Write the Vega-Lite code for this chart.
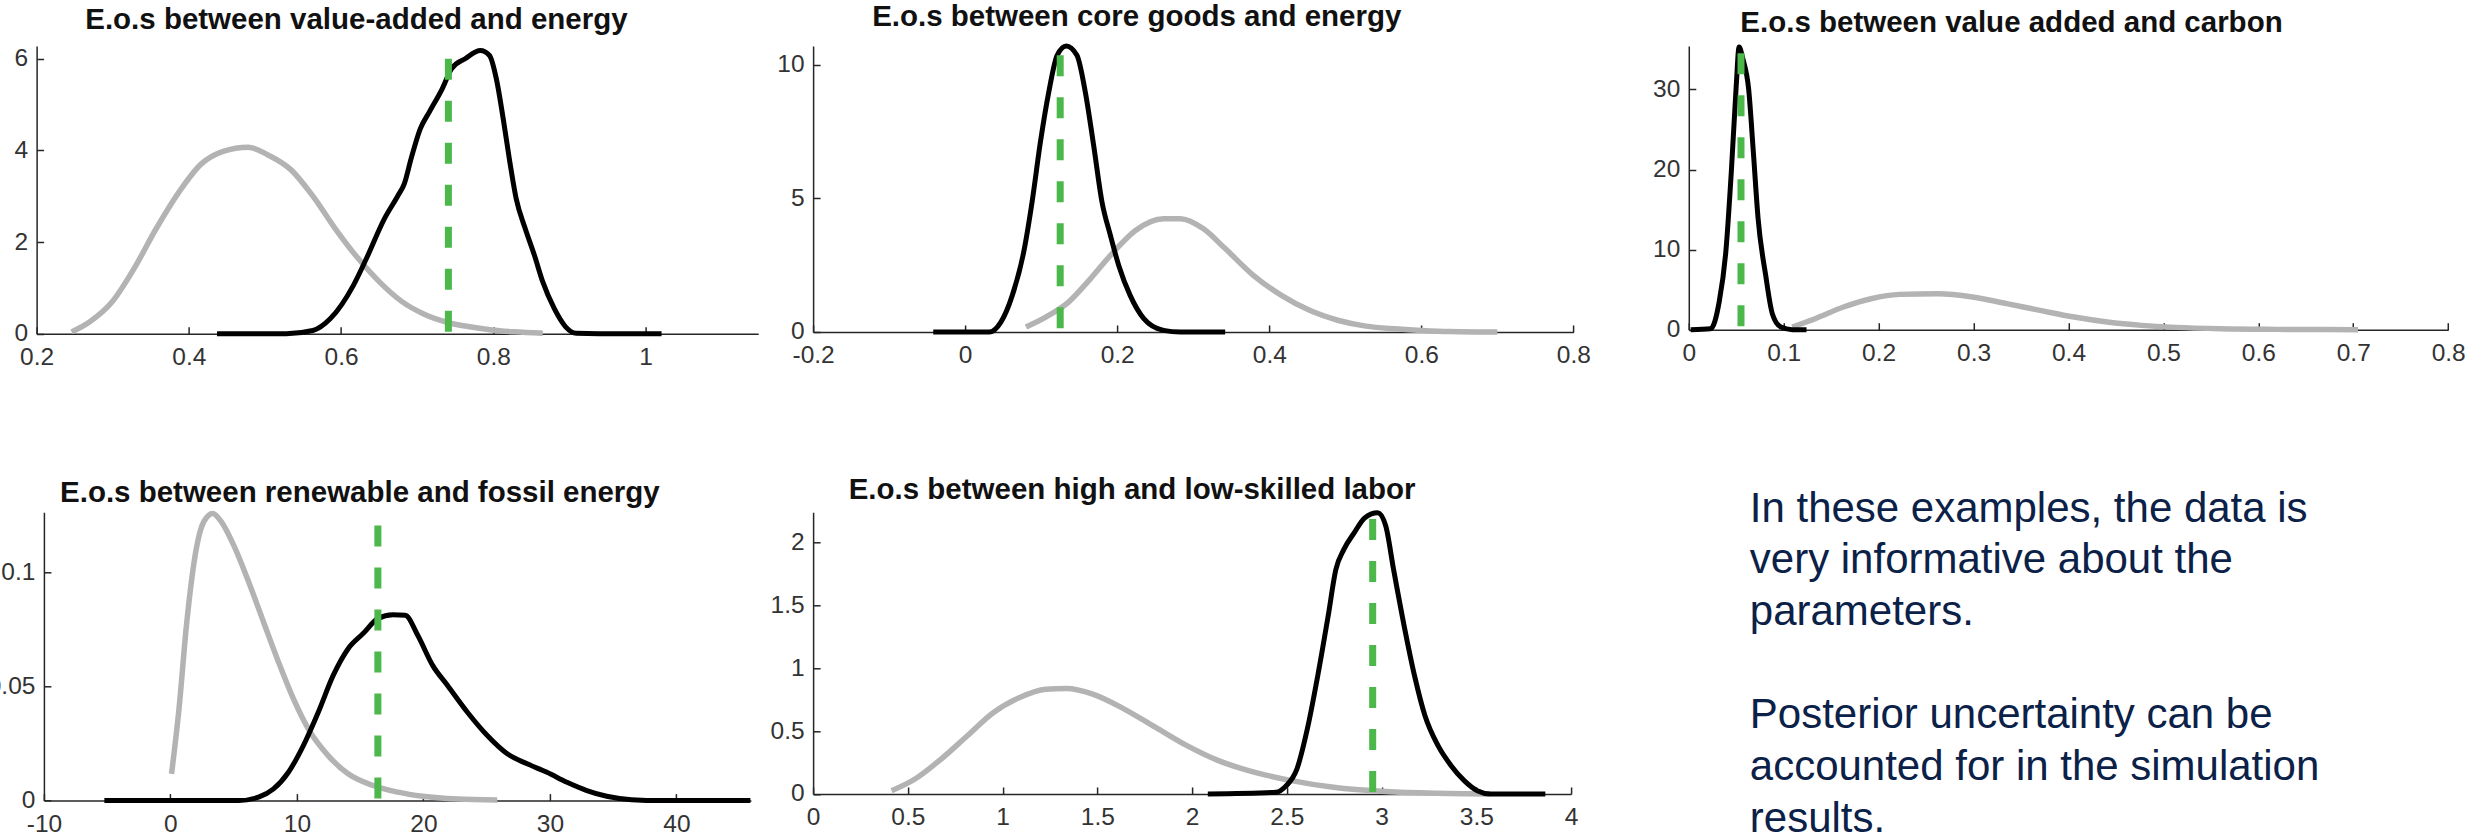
{
  "$schema": "https://vega.github.io/schema/vega-lite/v6.json",
  "background": "white",
  "padding": {"left": -13.6, "top": -133.3, "right": 5, "bottom": -6},
  "bounds": "flush",
  "align": "each",
  "center": {"row": false, "column": true},
  "columns": 3,
  "spacing": {"row": 178.3, "column": 54.7},
  "config": {
    "view": {"stroke": null},
    "axis": {"grid": false, "domainColor": "#262626", "domainWidth": 1.5, "tickColor": "#262626", "tickWidth": 1.5, "tickSize": -7, "labelFont": "Liberation Sans", "labelFontSize": 24.5, "labelColor": "#333333", "labelFlush": false, "labelOverlap": false},
    "axisX": {"labelPadding": 19},
    "axisY": {"labelPadding": 16},
    "title": {"font": "Liberation Sans", "fontSize": 29.5, "fontWeight": "bold", "color": "#111111", "baseline": "alphabetic", "anchor": "middle", "frame": "group"},
    "line": {"interpolate": "monotone", "strokeCap": "butt"}
  },
  "datasets": {
    "p1": [
      {"x":0.246,"y":0.04,"c":"prior"},{"x":0.269,"y":0.25,"c":"prior"},{"x":0.299,"y":0.69,"c":"prior"},{"x":0.328,"y":1.42,"c":"prior"},{"x":0.357,"y":2.29,"c":"prior"},{"x":0.387,"y":3.09,"c":"prior"},{"x":0.416,"y":3.7,"c":"prior"},{"x":0.445,"y":3.98,"c":"prior"},{"x":0.478,"y":4.07,"c":"prior"},{"x":0.504,"y":3.9,"c":"prior"},{"x":0.534,"y":3.58,"c":"prior"},{"x":0.563,"y":3.0,"c":"prior"},{"x":0.592,"y":2.3,"c":"prior"},{"x":0.622,"y":1.65,"c":"prior"},{"x":0.651,"y":1.12,"c":"prior"},{"x":0.68,"y":0.7,"c":"prior"},{"x":0.71,"y":0.42,"c":"prior"},{"x":0.739,"y":0.25,"c":"prior"},{"x":0.769,"y":0.15,"c":"prior"},{"x":0.798,"y":0.08,"c":"prior"},{"x":0.827,"y":0.04,"c":"prior"},{"x":0.865,"y":0.01,"c":"prior"},
      {"x":0.437,"y":0,"c":"post"},{"x":0.528,"y":0,"c":"post"},{"x":0.563,"y":0.07,"c":"post"},{"x":0.586,"y":0.33,"c":"post"},{"x":0.616,"y":1.05,"c":"post"},{"x":0.633,"y":1.63,"c":"post"},{"x":0.657,"y":2.51,"c":"post"},{"x":0.675,"y":3.02,"c":"post"},{"x":0.683,"y":3.27,"c":"post"},{"x":0.692,"y":3.82,"c":"post"},{"x":0.704,"y":4.47,"c":"post"},{"x":0.716,"y":4.84,"c":"post"},{"x":0.733,"y":5.35,"c":"post"},{"x":0.745,"y":5.78,"c":"post"},{"x":0.763,"y":6.0,"c":"post"},{"x":0.783,"y":6.18,"c":"post"},{"x":0.795,"y":6.07,"c":"post"},{"x":0.804,"y":5.56,"c":"post"},{"x":0.813,"y":4.69,"c":"post"},{"x":0.821,"y":3.82,"c":"post"},{"x":0.83,"y":2.95,"c":"post"},{"x":0.842,"y":2.29,"c":"post"},{"x":0.854,"y":1.71,"c":"post"},{"x":0.865,"y":1.13,"c":"post"},{"x":0.88,"y":0.55,"c":"post"},{"x":0.895,"y":0.15,"c":"post"},{"x":0.909,"y":0.01,"c":"post"},{"x":0.939,"y":0,"c":"post"},{"x":1.021,"y":0,"c":"post"}
    ],
    "p2": [
      {"x":0.08,"y":0.19,"c":"prior"},{"x":0.106,"y":0.56,"c":"prior"},{"x":0.136,"y":1.12,"c":"prior"},{"x":0.165,"y":2.0,"c":"prior"},{"x":0.195,"y":2.99,"c":"prior"},{"x":0.224,"y":3.8,"c":"prior"},{"x":0.261,"y":4.24,"c":"prior"},{"x":0.283,"y":4.24,"c":"prior"},{"x":0.313,"y":3.87,"c":"prior"},{"x":0.342,"y":3.12,"c":"prior"},{"x":0.379,"y":2.12,"c":"prior"},{"x":0.416,"y":1.37,"c":"prior"},{"x":0.453,"y":0.81,"c":"prior"},{"x":0.49,"y":0.44,"c":"prior"},{"x":0.527,"y":0.22,"c":"prior"},{"x":0.564,"y":0.12,"c":"prior"},{"x":0.601,"y":0.06,"c":"prior"},{"x":0.638,"y":0.02,"c":"prior"},{"x":0.7,"y":0,"c":"prior"},
      {"x":-0.042,"y":0,"c":"post"},{"x":0.032,"y":0,"c":"post"},{"x":0.047,"y":0.37,"c":"post"},{"x":0.062,"y":1.37,"c":"post"},{"x":0.077,"y":2.99,"c":"post"},{"x":0.088,"y":4.86,"c":"post"},{"x":0.099,"y":7.11,"c":"post"},{"x":0.11,"y":8.98,"c":"post"},{"x":0.121,"y":10.35,"c":"post"},{"x":0.133,"y":10.7,"c":"post"},{"x":0.147,"y":10.35,"c":"post"},{"x":0.158,"y":8.98,"c":"post"},{"x":0.169,"y":6.98,"c":"post"},{"x":0.18,"y":4.86,"c":"post"},{"x":0.191,"y":3.62,"c":"post"},{"x":0.202,"y":2.49,"c":"post"},{"x":0.217,"y":1.37,"c":"post"},{"x":0.235,"y":0.5,"c":"post"},{"x":0.261,"y":0.06,"c":"post"},{"x":0.283,"y":0,"c":"post"},{"x":0.342,"y":0,"c":"post"}
    ],
    "p3": [
      {"x":0.109,"y":0.33,"c":"prior"},{"x":0.133,"y":1.37,"c":"prior"},{"x":0.163,"y":2.83,"c":"prior"},{"x":0.192,"y":3.87,"c":"prior"},{"x":0.222,"y":4.41,"c":"prior"},{"x":0.263,"y":4.49,"c":"prior"},{"x":0.299,"y":4.08,"c":"prior"},{"x":0.335,"y":3.25,"c":"prior"},{"x":0.37,"y":2.41,"c":"prior"},{"x":0.406,"y":1.58,"c":"prior"},{"x":0.441,"y":0.96,"c":"prior"},{"x":0.477,"y":0.54,"c":"prior"},{"x":0.513,"y":0.29,"c":"prior"},{"x":0.56,"y":0.12,"c":"prior"},{"x":0.619,"y":0.04,"c":"prior"},{"x":0.705,"y":0,"c":"prior"},
      {"x":0.002,"y":0,"c":"post"},{"x":0.023,"y":0.12,"c":"post"},{"x":0.032,"y":3.45,"c":"post"},{"x":0.039,"y":9.7,"c":"post"},{"x":0.045,"y":20.1,"c":"post"},{"x":0.05,"y":30.5,"c":"post"},{"x":0.053,"y":35.3,"c":"post"},{"x":0.057,"y":33.8,"c":"post"},{"x":0.063,"y":30.1,"c":"post"},{"x":0.068,"y":22.2,"c":"post"},{"x":0.073,"y":13.9,"c":"post"},{"x":0.081,"y":6.8,"c":"post"},{"x":0.088,"y":2.0,"c":"post"},{"x":0.097,"y":0.33,"c":"post"},{"x":0.109,"y":0,"c":"post"},{"x":0.124,"y":0,"c":"post"}
    ],
    "p4": [
      {"x":0.09,"y":0.0117,"c":"prior"},{"x":0.68,"y":0.0402,"c":"prior"},{"x":1.27,"y":0.0768,"c":"prior"},{"x":2.05,"y":0.1104,"c":"prior"},{"x":2.64,"y":0.1221,"c":"prior"},{"x":3.35,"y":0.1257,"c":"prior"},{"x":4.02,"y":0.1221,"c":"prior"},{"x":5.0,"y":0.1118,"c":"prior"},{"x":6.18,"y":0.0958,"c":"prior"},{"x":7.36,"y":0.0782,"c":"prior"},{"x":8.54,"y":0.0607,"c":"prior"},{"x":9.72,"y":0.0446,"c":"prior"},{"x":10.9,"y":0.0314,"c":"prior"},{"x":12.47,"y":0.0197,"c":"prior"},{"x":14.05,"y":0.0117,"c":"prior"},{"x":16.01,"y":0.0066,"c":"prior"},{"x":17.98,"y":0.0037,"c":"prior"},{"x":19.94,"y":0.0019,"c":"prior"},{"x":22.69,"y":0.0007,"c":"prior"},{"x":25.84,"y":0.0003,"c":"prior"},
      {"x":-5.22,"y":0,"c":"post"},{"x":5.4,"y":0,"c":"post"},{"x":6.97,"y":0.0015,"c":"post"},{"x":8.15,"y":0.0051,"c":"post"},{"x":9.33,"y":0.0124,"c":"post"},{"x":10.51,"y":0.0241,"c":"post"},{"x":11.69,"y":0.0387,"c":"post"},{"x":12.87,"y":0.0548,"c":"post"},{"x":14.05,"y":0.0665,"c":"post"},{"x":15.23,"y":0.0731,"c":"post"},{"x":16.41,"y":0.0797,"c":"post"},{"x":17.58,"y":0.0814,"c":"post"},{"x":18.57,"y":0.0811,"c":"post"},{"x":19.55,"y":0.0724,"c":"post"},{"x":20.73,"y":0.0592,"c":"post"},{"x":21.91,"y":0.0504,"c":"post"},{"x":23.48,"y":0.0387,"c":"post"},{"x":25.05,"y":0.0285,"c":"post"},{"x":26.63,"y":0.0205,"c":"post"},{"x":28.2,"y":0.0161,"c":"post"},{"x":29.77,"y":0.0124,"c":"post"},{"x":31.35,"y":0.008,"c":"post"},{"x":32.92,"y":0.0044,"c":"post"},{"x":34.49,"y":0.0019,"c":"post"},{"x":36.46,"y":0.0004,"c":"post"},{"x":38.82,"y":0,"c":"post"},{"x":45.85,"y":0,"c":"post"}
    ],
    "p5": [
      {"x":0.414,"y":0.026,"c":"prior"},{"x":0.538,"y":0.119,"c":"prior"},{"x":0.676,"y":0.278,"c":"prior"},{"x":0.814,"y":0.463,"c":"prior"},{"x":0.952,"y":0.648,"c":"prior"},{"x":1.09,"y":0.767,"c":"prior"},{"x":1.228,"y":0.833,"c":"prior"},{"x":1.338,"y":0.839,"c":"prior"},{"x":1.476,"y":0.794,"c":"prior"},{"x":1.642,"y":0.675,"c":"prior"},{"x":1.808,"y":0.529,"c":"prior"},{"x":1.973,"y":0.384,"c":"prior"},{"x":2.139,"y":0.265,"c":"prior"},{"x":2.332,"y":0.172,"c":"prior"},{"x":2.525,"y":0.106,"c":"prior"},{"x":2.746,"y":0.053,"c":"prior"},{"x":3.022,"y":0.019,"c":"prior"},{"x":3.298,"y":0.005,"c":"prior"},{"x":3.574,"y":0,"c":"prior"},
      {"x":2.083,"y":0,"c":"post"},{"x":2.442,"y":0.013,"c":"post"},{"x":2.497,"y":0.066,"c":"post"},{"x":2.553,"y":0.198,"c":"post"},{"x":2.608,"y":0.516,"c":"post"},{"x":2.663,"y":0.939,"c":"post"},{"x":2.718,"y":1.415,"c":"post"},{"x":2.759,"y":1.786,"c":"post"},{"x":2.801,"y":1.944,"c":"post"},{"x":2.856,"y":2.077,"c":"post"},{"x":2.912,"y":2.196,"c":"post"},{"x":2.98,"y":2.235,"c":"post"},{"x":3.022,"y":2.13,"c":"post"},{"x":3.063,"y":1.786,"c":"post"},{"x":3.119,"y":1.336,"c":"post"},{"x":3.174,"y":0.939,"c":"post"},{"x":3.229,"y":0.622,"c":"post"},{"x":3.298,"y":0.384,"c":"post"},{"x":3.367,"y":0.225,"c":"post"},{"x":3.436,"y":0.106,"c":"post"},{"x":3.505,"y":0.026,"c":"post"},{"x":3.574,"y":0,"c":"post"},{"x":3.864,"y":0,"c":"post"}
    ],
    "truth": [
      {"panel":1,"x":0.741,"top":6.0},{"panel":2,"x":0.125,"top":10.35},{"panel":3,"x":0.055,"top":34.5},{"panel":4,"x":16.4,"top":0.1204},{"panel":5,"x":2.953,"top":2.186}
    ],
    "note": [
      {"line":1,"text":"In these examples, the data is"},{"line":2,"text":"very informative about the"},{"line":3,"text":"parameters."},{"line":5,"text":"Posterior uncertainty can be"},{"line":6,"text":"accounted for in the simulation"},{"line":7,"text":"results."}
    ],
    "blank": [{"k": 1}]
  },
  "concat": [
    {"width": 1, "height": 1, "data": {"name": "blank"}, "mark": {"type": "point", "opacity": 0, "size": 0}, "encoding": {}},
    {"width": 820.6, "height": 1, "data": {"name": "blank"}, "mark": {"type": "point", "opacity": 0, "size": 0}, "encoding": {}},
    {"width": 1, "height": 1, "data": {"name": "blank"}, "mark": {"type": "point", "opacity": 0, "size": 0}, "encoding": {}},
    {
      "width": 721.6, "height": 287.7,
      "title": {"text": "E.o.s between value-added and energy", "dx": -41, "offset": 4.6},
      "layer": [
        {"data": {"name": "p1"}, "transform": [{"filter": "datum.c === 'prior'"}],
         "mark": {"type": "line", "color": "#b3b3b3", "strokeWidth": 5.5},
         "encoding": {
           "x": {"field": "x", "type": "quantitative", "scale": {"domain": [0.2, 1.148], "nice": false, "zero": false}, "axis": {"title": null, "values": [0.2, 0.4, 0.6, 0.8, 1], "labelExpr": "'' + datum.value"}},
           "y": {"field": "y", "type": "quantitative", "scale": {"domain": [0, 6.278], "nice": false}, "axis": {"title": null, "values": [0, 2, 4, 6], "labelExpr": "'' + datum.value"}}}},
        {"data": {"name": "p1"}, "transform": [{"filter": "datum.c === 'post'"}],
         "mark": {"type": "line", "color": "#000000", "strokeWidth": 5},
         "encoding": {
           "x": {"field": "x", "type": "quantitative", "scale": {"domain": [0.2, 1.148], "nice": false, "zero": false}},
           "y": {"field": "y", "type": "quantitative", "scale": {"domain": [0, 6.278], "nice": false}}}},
        {"data": {"name": "truth"}, "transform": [{"filter": "datum.panel === 1"}],
         "mark": {"type": "rule", "color": "#4cb84c", "strokeWidth": 7, "strokeDash": [21, 21]},
         "encoding": {"x": {"field": "x", "type": "quantitative"}, "y": {"field": "top", "type": "quantitative"}, "y2": {"datum": 0}}}
      ]
    },
    {
      "width": 760.3, "height": 286,
      "title": {"text": "E.o.s between core goods and energy", "dx": -56.5, "offset": 3},
      "layer": [
        {"data": {"name": "p2"}, "transform": [{"filter": "datum.c === 'prior'"}],
         "mark": {"type": "line", "color": "#b3b3b3", "strokeWidth": 5.5},
         "encoding": {
           "x": {"field": "x", "type": "quantitative", "scale": {"domain": [-0.2, 0.8], "nice": false, "zero": false}, "axis": {"title": null, "values": [-0.2, 0, 0.2, 0.4, 0.6, 0.8], "labelExpr": "'' + datum.value"}},
           "y": {"field": "y", "type": "quantitative", "scale": {"domain": [0, 10.7], "nice": false}, "axis": {"title": null, "values": [0, 5, 10], "labelExpr": "'' + datum.value"}}}},
        {"data": {"name": "p2"}, "transform": [{"filter": "datum.c === 'post'"}],
         "mark": {"type": "line", "color": "#000000", "strokeWidth": 5},
         "encoding": {
           "x": {"field": "x", "type": "quantitative", "scale": {"domain": [-0.2, 0.8], "nice": false, "zero": false}},
           "y": {"field": "y", "type": "quantitative", "scale": {"domain": [0, 10.7], "nice": false}}}},
        {"data": {"name": "truth"}, "transform": [{"filter": "datum.panel === 2"}],
         "mark": {"type": "rule", "color": "#4cb84c", "strokeWidth": 7, "strokeDash": [21, 21]},
         "encoding": {"x": {"field": "x", "type": "quantitative"}, "y": {"field": "top", "type": "quantitative"}, "y2": {"datum": 0}}}
      ]
    },
    {
      "width": 759.4, "height": 283.7,
      "title": {"text": "E.o.s between value added and carbon", "dx": -57, "offset": -1.2},
      "layer": [
        {"data": {"name": "p3"}, "transform": [{"filter": "datum.c === 'prior'"}],
         "mark": {"type": "line", "color": "#b3b3b3", "strokeWidth": 5.5},
         "encoding": {
           "x": {"field": "x", "type": "quantitative", "scale": {"domain": [0, 0.8], "nice": false, "zero": false}, "axis": {"title": null, "values": [0, 0.1, 0.2, 0.3, 0.4, 0.5, 0.6, 0.7, 0.8], "labelExpr": "'' + datum.value"}},
           "y": {"field": "y", "type": "quantitative", "scale": {"domain": [0, 35.42], "nice": false}, "axis": {"title": null, "values": [0, 10, 20, 30], "labelExpr": "'' + datum.value"}}}},
        {"data": {"name": "p3"}, "transform": [{"filter": "datum.c === 'post'"}],
         "mark": {"type": "line", "color": "#000000", "strokeWidth": 5},
         "encoding": {
           "x": {"field": "x", "type": "quantitative", "scale": {"domain": [0, 0.8], "nice": false, "zero": false}},
           "y": {"field": "y", "type": "quantitative", "scale": {"domain": [0, 35.42], "nice": false}}}},
        {"data": {"name": "truth"}, "transform": [{"filter": "datum.panel === 3"}],
         "mark": {"type": "rule", "color": "#4cb84c", "strokeWidth": 7, "strokeDash": [21, 21]},
         "encoding": {"x": {"field": "x", "type": "quantitative"}, "y": {"field": "top", "type": "quantitative"}, "y2": {"datum": 0}}}
      ]
    },
    {
      "width": 707, "height": 288.3,
      "title": {"text": "E.o.s between renewable and fossil energy", "dx": -37.5, "offset": -5.7},
      "layer": [
        {"data": {"name": "p4"}, "transform": [{"filter": "datum.c === 'prior'"}],
         "mark": {"type": "line", "color": "#b3b3b3", "strokeWidth": 5.5},
         "encoding": {
           "x": {"field": "x", "type": "quantitative", "scale": {"domain": [-10, 45.89], "nice": false, "zero": false}, "axis": {"title": null, "values": [-10, 0, 10, 20, 30, 40], "labelExpr": "'' + datum.value"}},
           "y": {"field": "y", "type": "quantitative", "scale": {"domain": [0, 0.1262], "nice": false}, "axis": {"title": null, "values": [0, 0.05, 0.1], "labelExpr": "'' + datum.value"}}}},
        {"data": {"name": "p4"}, "transform": [{"filter": "datum.c === 'post'"}],
         "mark": {"type": "line", "color": "#000000", "strokeWidth": 5},
         "encoding": {
           "x": {"field": "x", "type": "quantitative", "scale": {"domain": [-10, 45.89], "nice": false, "zero": false}},
           "y": {"field": "y", "type": "quantitative", "scale": {"domain": [0, 0.1262], "nice": false}}}},
        {"data": {"name": "truth"}, "transform": [{"filter": "datum.panel === 4"}],
         "mark": {"type": "rule", "color": "#4cb84c", "strokeWidth": 7, "strokeDash": [21, 21]},
         "encoding": {"x": {"field": "x", "type": "quantitative"}, "y": {"field": "top", "type": "quantitative"}, "y2": {"datum": 0}}}
      ]
    },
    {
      "width": 758, "height": 281.7,
      "title": {"text": "E.o.s between high and low-skilled labor", "dx": -60, "offset": -2.6},
      "layer": [
        {"data": {"name": "p5"}, "transform": [{"filter": "datum.c === 'prior'"}],
         "mark": {"type": "line", "color": "#b3b3b3", "strokeWidth": 5.5},
         "encoding": {
           "x": {"field": "x", "type": "quantitative", "scale": {"domain": [0, 4], "nice": false, "zero": false}, "axis": {"title": null, "values": [0, 0.5, 1, 1.5, 2, 2.5, 3, 3.5, 4], "labelExpr": "'' + datum.value"}},
           "y": {"field": "y", "type": "quantitative", "scale": {"domain": [0, 2.239], "nice": false}, "axis": {"title": null, "values": [0, 0.5, 1, 1.5, 2], "labelExpr": "'' + datum.value"}}}},
        {"data": {"name": "p5"}, "transform": [{"filter": "datum.c === 'post'"}],
         "mark": {"type": "line", "color": "#000000", "strokeWidth": 5},
         "encoding": {
           "x": {"field": "x", "type": "quantitative", "scale": {"domain": [0, 4], "nice": false, "zero": false}},
           "y": {"field": "y", "type": "quantitative", "scale": {"domain": [0, 2.239], "nice": false}}}},
        {"data": {"name": "truth"}, "transform": [{"filter": "datum.panel === 5"}],
         "mark": {"type": "rule", "color": "#4cb84c", "strokeWidth": 7, "strokeDash": [21, 21]},
         "encoding": {"x": {"field": "x", "type": "quantitative"}, "y": {"field": "top", "type": "quantitative"}, "y2": {"datum": 0}}}
      ]
    },
    {
      "width": 700, "height": 288.3,
      "data": {"name": "note"},
      "mark": {"type": "text", "align": "left", "baseline": "alphabetic", "font": "Liberation Sans", "fontSize": 42, "color": "#0b2148"},
      "encoding": {
        "x": {"datum": 0, "type": "quantitative", "scale": {"domain": [-0.0955, 1]}, "axis": null},
        "y": {"field": "line", "type": "quantitative", "scale": {"domain": [0.8201, 6.3965], "reverse": true, "nice": false, "zero": false}, "axis": null},
        "text": {"field": "text", "type": "nominal"}
      }
    }
  ]
}
